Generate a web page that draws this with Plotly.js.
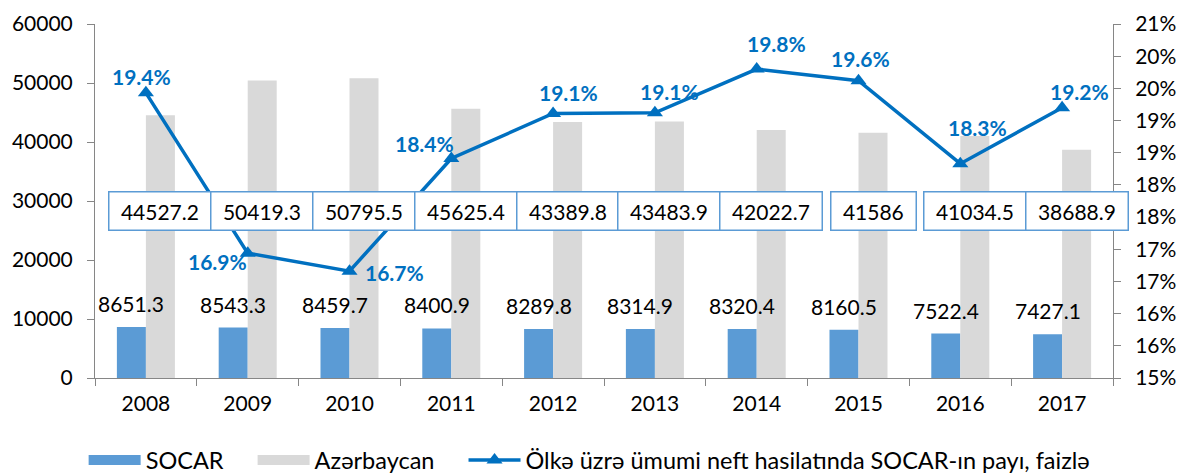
<!DOCTYPE html>
<html>
<head>
<meta charset="utf-8">
<script src="https://cdn.plot.ly/plotly-3.0.1.min.js"></script>
<style>html,body{margin:0;padding:0;background:#fff;}#chart{width:1184px;height:475px;}</style>
</head>
<body>
<div id="chart"></div>
<script>
const years = ['2008','2009','2010','2011','2012','2013','2014','2015','2016','2017'];
const socar = [8651.3, 8543.3, 8459.7, 8400.9, 8289.8, 8314.9, 8320.4, 8160.5, 7522.4, 7427.1];
const azerbaycan = [44527.2, 50419.3, 50795.5, 45625.4, 43389.8, 43483.9, 42022.7, 41586, 41034.5, 38688.9];
const sharePct = [19.43, 16.94, 16.66, 18.41, 19.11, 19.12, 19.80, 19.62, 18.33, 19.20];
const rightTickVals = [15, 15.5, 16, 16.5, 17, 17.5, 18, 18.5, 19, 19.5, 20, 20.5];
const rightTickText = ['15%','16%','16%','17%','17%','18%','18%','19%','19%','20%','20%','21%'];
const seriesNames = ['SOCAR', 'Azərbaycan', 'Ölkə üzrə ümumi neft hasilatında SOCAR-ın payı, faizlə'];
// pixel offsets of each percentage label from its marker [dx, dy(down)]
const pctLabelShift = [[-4,-16],[-30,8],[45,1],[-27,-15],[15,-21],[15,-21],[20,-26],[2,-22],[17,-36],[17,-16]];

const FONT = 'Lato, "Open Sans", sans-serif';
const BLUE = '#5B9BD5', GRAY = '#D9D9D9', LINE = '#0070C0', AXIS = '#868686';
const FS = 21;
const PAD = '\u00a0\u00a0\u00a0\u00a0';

const traces = [
  {type:'bar', name:seriesNames[0], x:years, y:socar, marker:{color:BLUE}, hoverinfo:'skip', showlegend:false},
  {type:'bar', name:seriesNames[1], x:years, y:azerbaycan, marker:{color:GRAY}, hoverinfo:'skip', showlegend:false},
  {type:'scatter', mode:'lines+markers', name:seriesNames[2], x:years, y:sharePct, yaxis:'y2',
   line:{color:LINE, width:3.5}, marker:{symbol:'triangle-up', size:14, color:LINE}, cliponaxis:false,
   hoverinfo:'skip', showlegend:false},
  // legend entries
  {type:'scatter', mode:'lines', name:seriesNames[0] + PAD, x:[null], y:[null], line:{color:BLUE, width:15}, hoverinfo:'skip'},
  {type:'scatter', mode:'lines', name:seriesNames[1] + PAD, x:[null], y:[null], line:{color:GRAY, width:15}, hoverinfo:'skip'},
  {type:'scatter', mode:'lines+markers', name:seriesNames[2], x:[null], y:[null], yaxis:'y2',
   line:{color:LINE, width:3.5}, marker:{symbol:'triangle-up', size:14, color:LINE}, hoverinfo:'skip'}
];

const annotations = [];
years.forEach((yr, i) => {
  annotations.push({x:i, y:socar[i], xref:'x', yref:'y', xshift:-14.5, yshift:9, yanchor:'bottom',
    showarrow:false, text:String(socar[i]), font:{family:FONT, size:FS, color:'#000'}});
  annotations.push({x:i, y:0.473, xref:'x', yref:'paper', xshift:14.5, yanchor:'middle',
    showarrow:false, text:'\u00a0' + String(azerbaycan[i]) + '\u00a0', font:{family:FONT, size:FS, color:'#000'},
    bgcolor:'#fff', bordercolor:BLUE, borderwidth:1.5, borderpad:6});
  annotations.push({x:i, y:sharePct[i], xref:'x', yref:'y2', xshift:pctLabelShift[i][0], yshift:-pctLabelShift[i][1],
    xanchor:'center', yanchor:'middle', showarrow:false, text:sharePct[i].toFixed(1) + '%',
    font:{family:FONT, size:FS, color:LINE, weight:700}});
});

const layout = {
  width:1184, height:475,
  margin:{l:95, r:71, t:24, b:97},
  paper_bgcolor:'#fff', plot_bgcolor:'#fff',
  font:{family:FONT, size:FS, color:'#000'},
  barmode:'group', bargap:0.43, bargroupgap:0,
  showlegend:true,
  legend:{orientation:'h', x:0.498, xref:'container', xanchor:'center', y:0.031, yref:'container', yanchor:'middle',
          font:{family:FONT, size:23.5, color:'#000'}, itemwidth:52, traceorder:'normal'},
  xaxis:{type:'category', range:[-0.5, 9.5], autorange:false, showline:true, linecolor:AXIS, linewidth:1, ticks:'outside', ticklen:7, tickcolor:AXIS,
         tickson:'boundaries', showgrid:false, zeroline:false, tickangle:0, ticklabelstandoff:7, tickfont:{size:FS}},
  yaxis:{range:[0,60000], autorange:false, dtick:10000, tickformat:'d', showline:true, linecolor:AXIS, ticks:'outside', ticklen:7, tickcolor:AXIS,
         showgrid:false, zeroline:false, tickfont:{size:FS}, ticklabelstandoff:10},
  yaxis2:{overlaying:'y', side:'right', range:[15,20.5], autorange:false, tickvals:rightTickVals, ticktext:rightTickText,
          showline:true, linecolor:AXIS, ticks:'outside', ticklen:7, tickcolor:AXIS, showgrid:false, zeroline:false,
          tickfont:{size:FS}, ticklabelstandoff:10},
  annotations: annotations
};

Plotly.newPlot('chart', traces, layout, {staticPlot:true, displayModeBar:false});
</script>
</body>
</html>
